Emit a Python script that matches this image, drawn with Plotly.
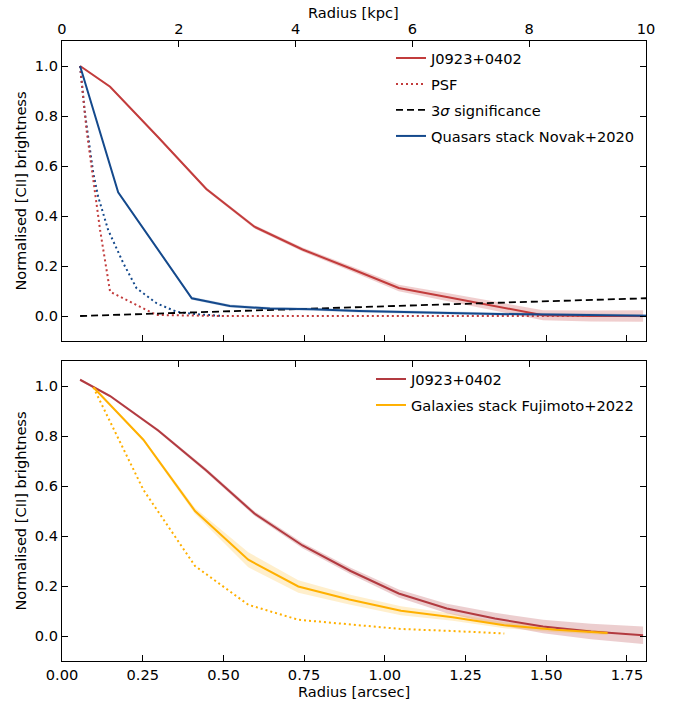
import plotly.graph_objects as go

# ---------------- data (radius in arcsec) ----------------
ARCSEC_MAX = 1.809
KPC_MAX = 10.0

# top panel
r_j0923 = [0.056, 0.149, 0.298, 0.447, 0.596, 0.745, 0.894, 1.043, 1.192, 1.341, 1.49, 1.639, 1.80]
j0923_top = [1.0, 0.917, 0.715, 0.508, 0.357, 0.266, 0.19, 0.112, 0.076, 0.04, 0.003, 0.0, 0.0]
j0923_top_err = [0.003, 0.004, 0.005, 0.006, 0.007, 0.008, 0.01, 0.013, 0.016, 0.018, 0.02, 0.022, 0.023]

r_psf_j0923 = [0.056, 0.076, 0.097, 0.118, 0.149, 0.2, 0.25, 0.293, 0.5, 1.0, 1.5, 1.809]
psf_j0923 = [1.0, 0.744, 0.544, 0.344, 0.097, 0.064, 0.03, 0.004, 0.0, 0.0, 0.0, 0.0]

r_novak = [0.056, 0.174, 0.402, 0.52, 0.644, 0.778, 0.92, 1.06, 1.2, 1.35, 1.5, 1.65, 1.809]
novak = [1.0, 0.495, 0.071, 0.04, 0.03, 0.027, 0.02, 0.015, 0.012, 0.008, 0.005, 0.002, 0.001]
novak_err = [0.002, 0.004, 0.006, 0.006, 0.006, 0.006, 0.006, 0.006, 0.006, 0.006, 0.006, 0.006, 0.006]

r_psf_novak = [0.056, 0.071, 0.097, 0.112, 0.143, 0.19, 0.231, 0.293, 0.355, 0.407, 0.5]
psf_novak = [1.0, 0.811, 0.571, 0.477, 0.344, 0.211, 0.111, 0.051, 0.017, 0.008, 0.0]

r_sigma = [0.056, 0.4, 0.861, 1.2, 1.809]
sigma3 = [0.0, 0.013, 0.033, 0.047, 0.071]

# bottom panel
j0923_bot = [1.025, 0.96, 0.822, 0.662, 0.49, 0.362, 0.26, 0.17, 0.11, 0.07, 0.038, 0.018, 0.003]
j0923_bot_err = [0.004, 0.005, 0.006, 0.008, 0.009, 0.011, 0.013, 0.016, 0.019, 0.023, 0.027, 0.031, 0.035]

r_fuj = [0.097, 0.252, 0.412, 0.577, 0.732, 0.89, 1.05, 1.21, 1.37, 1.53, 1.69]
fujimoto = [0.995, 0.785, 0.50, 0.305, 0.198, 0.146, 0.101, 0.075, 0.043, 0.025, 0.012]
fujimoto_err = [0.003, 0.006, 0.012, 0.03, 0.025, 0.02, 0.018, 0.014, 0.012, 0.01, 0.008]

r_psf_fuj = [0.097, 0.252, 0.412, 0.577, 0.732, 0.89, 1.05, 1.21, 1.37]
psf_fuj = [0.995, 0.585, 0.28, 0.125, 0.065, 0.046, 0.028, 0.02, 0.01]

kpc_ticks = [0, 2, 4, 6, 8, 10]
arcsec_ticks = [0.0, 0.25, 0.5, 0.75, 1.0, 1.25, 1.5, 1.75]
y_ticks = [0.0, 0.2, 0.4, 0.6, 0.8, 1.0]

# ---------------- style ----------------
RED = "#c23c3c"
RED_B = "#b23a40"
BLUE = "#14498c"
YEL = "#ffb000"
FONT = "DejaVu Sans"
FS = 14.6
W, H = 680, 702
OFF = 0  # page body margin (removed via post_script)


def band(x, y, e, color, xa, ya):
    lo = [a - b for a, b in zip(y, e)]
    hi = [a + b for a, b in zip(y, e)]
    return [
        go.Scatter(x=x, y=lo, mode="lines", line=dict(width=0), hoverinfo="skip",
                   showlegend=False, xaxis=xa, yaxis=ya),
        go.Scatter(x=x, y=hi, mode="lines", line=dict(width=0), fill="tonexty",
                   fillcolor=color, hoverinfo="skip", showlegend=False, xaxis=xa, yaxis=ya),
    ]


fig = go.Figure()

# ----- top panel -----
for t in band(r_j0923, j0923_top, j0923_top_err, "rgba(194,60,60,0.25)", "x", "y"):
    fig.add_trace(t)
for t in band(r_novak, novak, novak_err, "rgba(20,73,140,0.2)", "x", "y"):
    fig.add_trace(t)

fig.add_trace(go.Scatter(x=r_psf_novak, y=psf_novak, mode="lines", showlegend=False,
                         line=dict(color=BLUE, width=2, dash="2px,3px"), xaxis="x", yaxis="y"))
fig.add_trace(go.Scatter(x=r_j0923, y=j0923_top, mode="lines", name="J0923+0402",
                         line=dict(color=RED, width=2), legend="legend", legendgroup="a",
                         xaxis="x", yaxis="y"))
fig.add_trace(go.Scatter(x=r_psf_j0923, y=psf_j0923, mode="lines", name="PSF",
                         line=dict(color=RED, width=2, dash="2px,3px"), legend="legend",
                         legendgroup="b", xaxis="x", yaxis="y"))
fig.add_trace(go.Scatter(x=r_sigma, y=sigma3, mode="lines", name="3<i>σ</i> significance",
                         line=dict(color="black", width=1.8, dash="7px,4px"), legend="legend",
                         legendgroup="c", xaxis="x", yaxis="y"))
fig.add_trace(go.Scatter(x=r_novak, y=novak, mode="lines", name="Quasars stack Novak+2020",
                         line=dict(color=BLUE, width=2), legend="legend", legendgroup="d",
                         xaxis="x", yaxis="y"))

# ----- bottom panel -----
for t in band(r_j0923, j0923_bot, j0923_bot_err, "rgba(178,58,64,0.25)", "x3", "y3"):
    fig.add_trace(t)
for t in band(r_fuj, fujimoto, fujimoto_err, "rgba(255,176,0,0.2)", "x3", "y3"):
    fig.add_trace(t)

fig.add_trace(go.Scatter(x=r_psf_fuj, y=psf_fuj, mode="lines", showlegend=False,
                         line=dict(color=YEL, width=2, dash="2px,3px"), xaxis="x3", yaxis="y3"))
fig.add_trace(go.Scatter(x=r_j0923, y=j0923_bot, mode="lines", name="J0923+0402",
                         line=dict(color=RED_B, width=2), legend="legend2", legendgroup="e",
                         xaxis="x3", yaxis="y3"))
fig.add_trace(go.Scatter(x=r_fuj, y=fujimoto, mode="lines", name="Galaxies stack Fujimoto+2022",
                         line=dict(color=YEL, width=2), legend="legend2", legendgroup="f",
                         xaxis="x3", yaxis="y3"))

# ---------------- layout ----------------
def px_x(p):
    return (p - OFF) / W


def px_y(p):
    return (H - (p - OFF)) / H


x0, x1 = px_x(62), px_x(646)
top_dom = [px_y(341), px_y(41)]
bot_dom = [px_y(661), px_y(361)]

tickfont = dict(family=FONT, size=FS, color="black")
common = dict(showgrid=False, zeroline=False, showline=True, linecolor="black", linewidth=1.2,
              ticks="inside", ticklen=6, tickwidth=1.2, tickcolor="black", tickfont=tickfont,
              automargin=False)

fig.update_layout(
    width=W, height=H,
    margin=dict(l=0, r=0, t=0, b=0),
    paper_bgcolor="white", plot_bgcolor="white",
    font=dict(family=FONT, size=FS, color="black"),
    xaxis=dict(domain=[x0, x1], anchor="y", range=[0, ARCSEC_MAX], tickvals=arcsec_ticks,
               showticklabels=False, **common),
    xaxis2=dict(domain=[x0, x1], anchor="y", overlaying="x", side="top", range=[0, KPC_MAX],
                tickvals=kpc_ticks, **common),
    yaxis=dict(domain=top_dom, anchor="x", range=[-0.1, 1.1], tickvals=y_ticks, tickformat=".1f",
               mirror="ticks", title=dict(text="Normalised [CII] brightness", standoff=4,
                                          font=tickfont), **common),
    xaxis3=dict(domain=[x0, x1], anchor="y3", range=[0, ARCSEC_MAX], tickvals=arcsec_ticks,
                tickformat=".2f", title=dict(text="Radius [arcsec]", standoff=3, font=tickfont),
                **common),
    xaxis4=dict(domain=[x0, x1], anchor="y3", overlaying="x3", side="top", range=[0, KPC_MAX],
                tickvals=kpc_ticks, showticklabels=False, **common),
    yaxis3=dict(domain=bot_dom, anchor="x3", range=[-0.1, 1.1], tickvals=y_ticks, tickformat=".1f",
                mirror="ticks", title=dict(text="Normalised [CII] brightness", standoff=4,
                                           font=tickfont), **common),
    legend=dict(x=px_x(397 - 6), y=px_y(59 - 17), xanchor="left", yanchor="top",
                bgcolor="rgba(0,0,0,0)", font=dict(family=FONT, size=FS),
                tracegroupgap=4, itemwidth=30, traceorder="grouped"),
    legend2=dict(x=px_x(377 - 6), y=px_y(380 - 17), xanchor="left", yanchor="top",
                 bgcolor="rgba(0,0,0,0)", font=dict(family=FONT, size=FS),
                 tracegroupgap=4, itemwidth=30, traceorder="grouped"),
    annotations=[dict(text="Radius [kpc]", xref="paper", yref="paper",
                      x=(x0 + x1) / 2, y=px_y(12), xanchor="center", yanchor="middle",
                      showarrow=False, font=tickfont)],
)

# dummy traces to activate overlay axes
fig.add_trace(go.Scatter(x=[None], y=[None], xaxis="x2", yaxis="y", showlegend=False))
fig.add_trace(go.Scatter(x=[None], y=[None], xaxis="x4", yaxis="y3", showlegend=False))

fig.write_html("out.html", config={"displayModeBar": False},
               post_script="document.body.style.margin='0px';")
